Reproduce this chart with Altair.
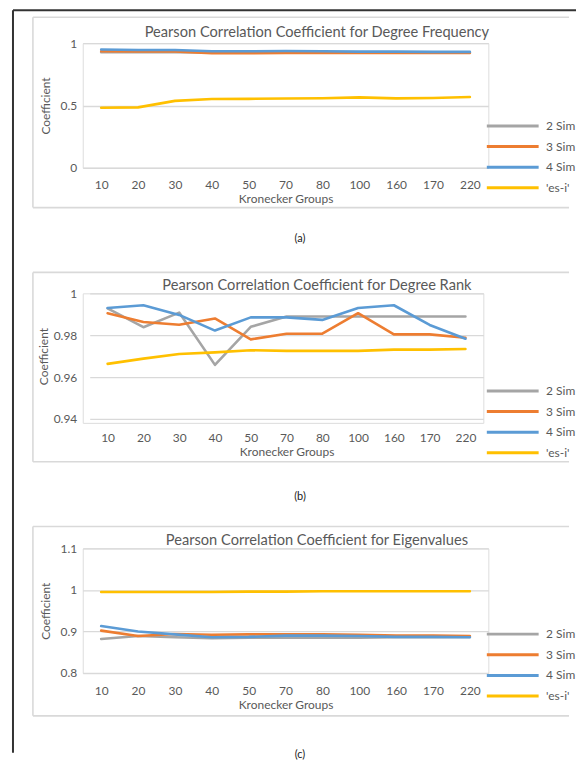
import altair as alt
import pandas as pd

groups = ["10", "20", "30", "40", "50", "70", "80", "100", "160", "170", "220"]
series = ["2 Sim", "3 Sim", "4 Sim", "'es-i'"]
colors = ["#a5a5a5", "#ed7d31", "#5b9bd5", "#ffc000"]

titles = [
    "Pearson Correlation Coefficient for Degree Frequency",
    "Pearson Correlation Coefficient for Degree Rank",
    "Pearson Correlation Coefficient for Eigenvalues",
]
captions = ["(a)", "(b)", "(c)"]
y_title = "Coefficient"
x_title = "Kronecker Groups"

# (a) Degree Frequency
freq_2 = [0.928, 0.928, 0.928, 0.925, 0.925, 0.925, 0.925, 0.925, 0.925, 0.925, 0.925]
freq_3 = [0.935, 0.933, 0.933, 0.920, 0.920, 0.922, 0.922, 0.922, 0.922, 0.922, 0.922]
freq_4 = [0.950, 0.945, 0.945, 0.935, 0.935, 0.938, 0.935, 0.932, 0.932, 0.930, 0.930]
freq_e = [0.482, 0.485, 0.537, 0.552, 0.553, 0.556, 0.558, 0.565, 0.557, 0.560, 0.568]
freq_ticks = [0, 0.5, 1]

# (b) Degree Rank
rank_2 = [0.9928, 0.9838, 0.9908, 0.9658, 0.9840, 0.9889, 0.9889, 0.9889, 0.9889, 0.9889, 0.9889]
rank_3 = [0.9905, 0.9863, 0.9850, 0.9880, 0.9780, 0.9807, 0.9807, 0.9905, 0.9804, 0.9804, 0.9788]
rank_4 = [0.9930, 0.9943, 0.9897, 0.9822, 0.9885, 0.9885, 0.9873, 0.9930, 0.9943, 0.9849, 0.9783]
rank_e = [0.9663, 0.9688, 0.9710, 0.9718, 0.9728, 0.9725, 0.9725, 0.9725, 0.9731, 0.9731, 0.9734]
rank_ticks = [0.94, 0.96, 0.98, 1]

# (c) Eigenvalues
eig_2 = [0.882, 0.889, 0.886, 0.884, 0.885, 0.885, 0.885, 0.885, 0.886, 0.886, 0.887]
eig_3 = [0.902, 0.889, 0.894, 0.892, 0.893, 0.893, 0.893, 0.892, 0.890, 0.890, 0.889]
eig_4 = [0.913, 0.900, 0.893, 0.886, 0.887, 0.890, 0.890, 0.889, 0.887, 0.887, 0.886]
eig_e = [0.995, 0.995, 0.995, 0.995, 0.996, 0.996, 0.997, 0.997, 0.997, 0.997, 0.997]
eig_ticks = [0.8, 0.9, 1, 1.1]

FONT = "Lato"
TXT = "#595959"
GRID = "#d9d9d9"
ONE = pd.DataFrame({"k": [0]})


def long_df(cols):
    rows = []
    for s, vals in zip(series, cols):
        for g, v in zip(groups, vals):
            rows.append({"group": g, "series": s, "value": v})
    return pd.DataFrame(rows)


def hrule(x1, x2, y, color, sw):
    return alt.Chart(ONE).mark_rule(color=color, strokeWidth=sw).encode(
        x=alt.value(x1), x2=alt.value(x2), y=alt.value(y))


def vrule(x, y1, y2, color, sw):
    return alt.Chart(ONE).mark_rule(color=color, strokeWidth=sw).encode(
        x=alt.value(x), y=alt.value(y1), y2=alt.value(y2))


def panel(cols, ticks, title, caption, width, height, xrange, yrange,
          box, title_y, legend_y, caption_y, xlab_pad, xtitle_pad, ytitle_pad,
          extra=None):
    df = long_df(cols)
    xscale = alt.Scale(type="point", padding=0.5, range=xrange)
    lines = alt.Chart(df).mark_line(strokeWidth=2.6, strokeCap="round", strokeJoin="round").encode(
        x=alt.X("group:N", sort=groups, scale=xscale,
                axis=alt.Axis(title=x_title, domain=False, ticks=False, grid=False,
                              labelAngle=0, labelPadding=xlab_pad, titlePadding=xtitle_pad,
                              labelFontSize=12, titleFontSize=12, labelColor=TXT,
                              titleColor=TXT, titleFontWeight="normal", labelFont=FONT,
                              titleFont=FONT)),
        y=alt.Y("value:Q",
                scale=alt.Scale(domain=[ticks[0], ticks[-1]], nice=False, zero=False,
                                range=yrange),
                axis=alt.Axis(title=y_title, values=ticks, format=".2~f", domain=False,
                              ticks=False, grid=True, gridColor=GRID, gridWidth=1.3,
                              labelPadding=6, titlePadding=ytitle_pad, labelFontSize=12,
                              titleFontSize=12, labelColor=TXT, titleColor=TXT,
                              titleFontWeight="normal", labelFont=FONT, titleFont=FONT)),
        color=alt.Color("series:N", sort=series,
                        scale=alt.Scale(domain=series, range=colors),
                        legend=alt.Legend(title=None, orient="none", legendX=404,
                                          legendY=legend_y, symbolType="stroke",
                                          symbolSize=2704, symbolStrokeWidth=3,
                                          clipHeight=14, rowPadding=6.7, labelOffset=6,
                                          labelFontSize=12, labelColor=TXT, labelFont=FONT,
                                          padding=0)),
        order=alt.Order("series:N"),
    )
    bx1, bx2, by1, by2 = box
    frame = [
        hrule(bx1, bx2, by1, GRID, 1.6),
        hrule(bx1, bx2, by2, GRID, 1.6),
        vrule(bx1, by1, by2, GRID, 1.6),
    ]
    ttl = alt.Chart(pd.DataFrame({"t": [title]})).mark_text(
        font=FONT, fontSize=14.7, color=TXT, baseline="middle", align="center"
    ).encode(x=alt.value(235), y=alt.value(title_y), text="t:N")
    cap = alt.Chart(pd.DataFrame({"t": [caption]})).mark_text(
        font=FONT, fontSize=11, color="#222222", baseline="middle", align="center"
    ).encode(x=alt.value(218), y=alt.value(caption_y), text="t:N")
    layers = frame + [lines, ttl, cap]
    if extra is not None:
        layers = extra + layers
    return alt.layer(*layers).properties(width=width, height=height)


border = [
    hrule(-70, 495, -33, "#333333", 2),
    vrule(-70, -33, 712, "#333333", 2),
]

pa = panel([freq_2, freq_3, freq_4, freq_e], freq_ticks, titles[0], captions[0],
           407, 125, [0, 407], [125, 0], (-50, 488, -26, 165), -10, 76, 196,
           12, 3, 8, extra=border)
pb = panel([rank_2, rank_3, rank_4, rank_e], rank_ticks, titles[1], captions[1],
           402, 130, [7, 402], [126, 0], (-50, 488, -21, 169), -7, 91, 204,
           10, 3, 3)
pc = panel([eig_2, eig_3, eig_4, eig_e], eig_ticks, titles[2], captions[2],
           407, 125, [0, 407], [125, 0], (-50, 488, -22, 168), -7, 79, 207,
           13, 3, 8)

chart = alt.vconcat(pa, pb, pc, spacing=126, bounds="flush").resolve_scale(
    color="independent", x="independent", y="independent"
).resolve_legend(color="independent").properties(
    padding={"left": 3, "top": -1, "right": 0, "bottom": 0}
).configure_view(stroke=None).configure(font=FONT, background="white")

chart.save("out.html", embed_options={"renderer": "svg", "actions": False})
